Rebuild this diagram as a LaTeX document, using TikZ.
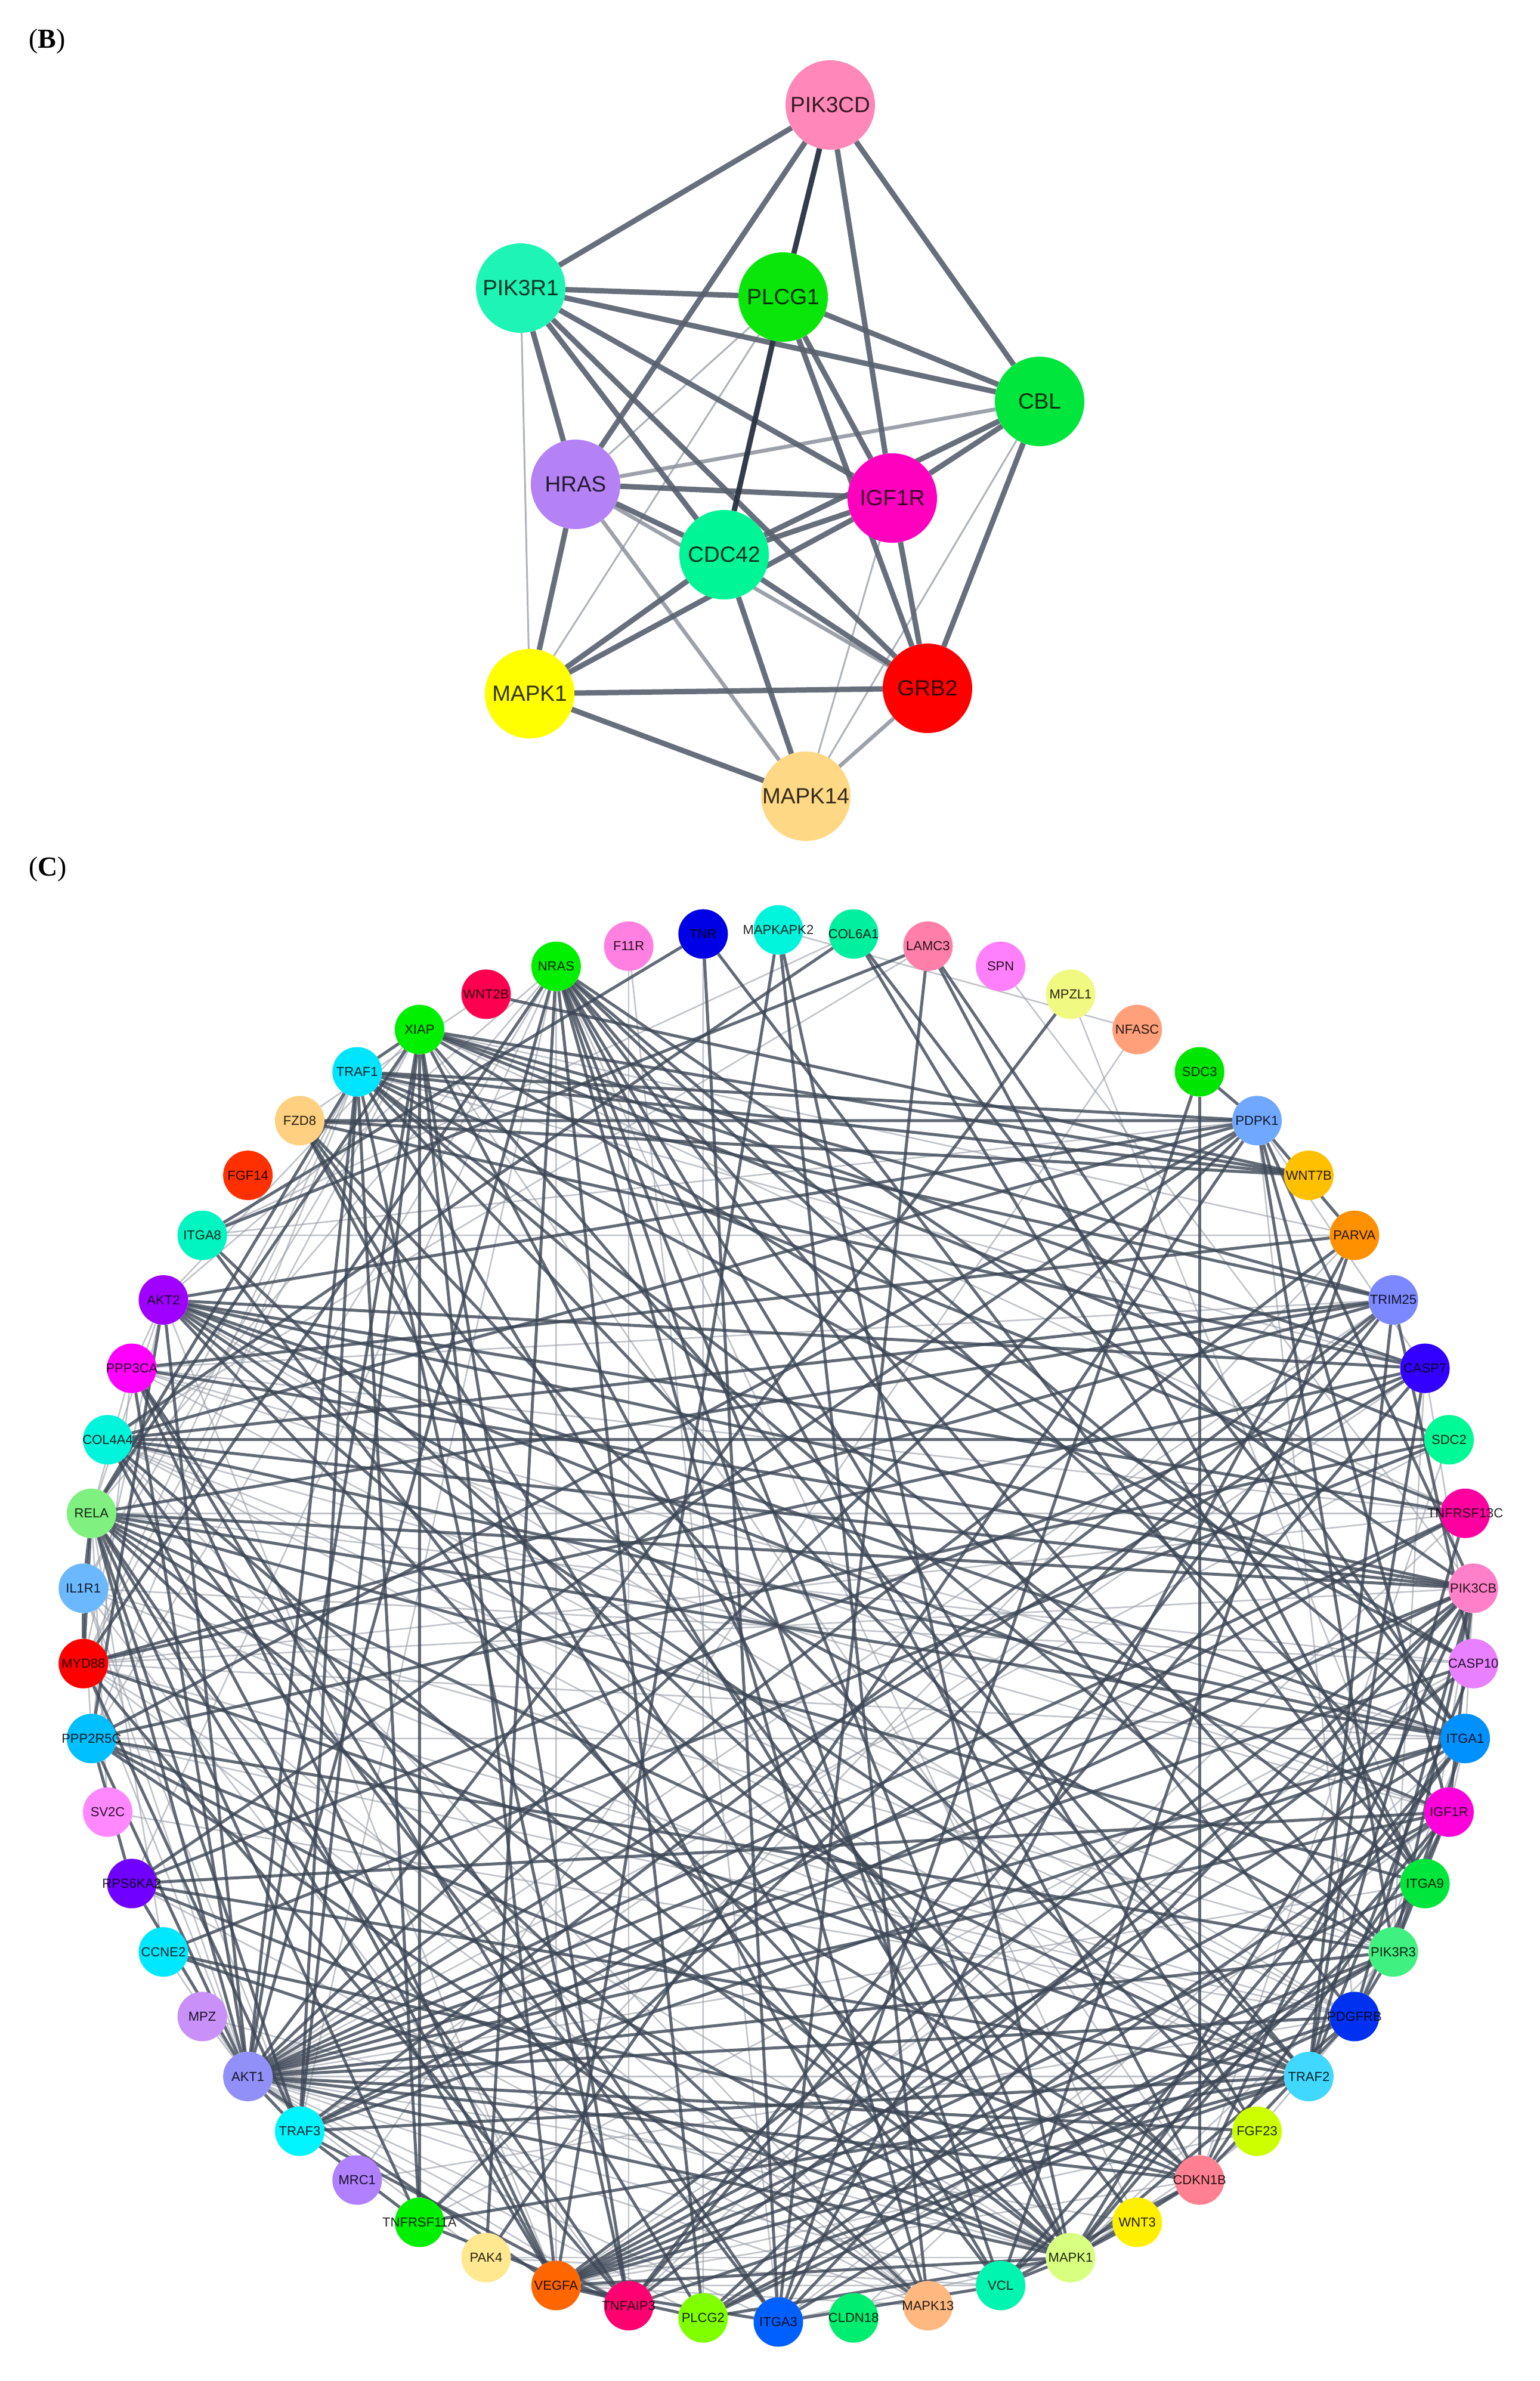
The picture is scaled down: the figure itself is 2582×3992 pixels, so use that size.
\documentclass[tikz,border=0pt]{standalone}
\usepackage{fontspec}
\newfontfamily\arialf{Liberation Sans}
\newfontfamily\timesf{Liberation Serif}
\pgfdeclarelayer{bgl}
\pgfdeclarelayer{edges}
\pgfsetlayers{bgl,edges,main}
% panel B colours
\definecolor{bcPIK3CD}{RGB}{255,136,184}
\definecolor{bcPIK3R1}{RGB}{30,245,180}
\definecolor{bcPLCG1}{RGB}{10,230,10}
\definecolor{bcCBL}{RGB}{0,230,60}
\definecolor{bcHRAS}{RGB}{180,130,245}
\definecolor{bcIGF1R}{RGB}{255,0,190}
\definecolor{bcCDC42}{RGB}{0,245,150}
\definecolor{bcMAPK1}{RGB}{255,255,0}
\definecolor{bcGRB2}{RGB}{255,0,0}
\definecolor{bcMAPK14}{RGB}{255,216,133}
% panel C colours
\definecolor{ccTNR}{RGB}{0,0,230}
\definecolor{ccMAPKAPK2}{RGB}{0,245,220}
\definecolor{ccCOL6A1}{RGB}{0,240,160}
\definecolor{ccLAMC3}{RGB}{255,127,170}
\definecolor{ccSPN}{RGB}{255,128,250}
\definecolor{ccMPZL1}{RGB}{240,250,128}
\definecolor{ccNFASC}{RGB}{255,160,122}
\definecolor{ccSDC3}{RGB}{0,230,0}
\definecolor{ccPDPK1}{RGB}{112,168,255}
\definecolor{ccWNT7B}{RGB}{255,192,0}
\definecolor{ccPARVA}{RGB}{255,144,0}
\definecolor{ccTRIM25}{RGB}{123,136,255}
\definecolor{ccCASP7}{RGB}{51,0,255}
\definecolor{ccSDC2}{RGB}{0,250,150}
\definecolor{ccTNFRSF13C}{RGB}{255,0,160}
\definecolor{ccPIK3CB}{RGB}{255,128,200}
\definecolor{ccCASP10}{RGB}{232,128,255}
\definecolor{ccITGA1}{RGB}{0,145,255}
\definecolor{ccIGF1R}{RGB}{255,0,220}
\definecolor{ccITGA9}{RGB}{0,230,60}
\definecolor{ccPIK3R3}{RGB}{64,240,128}
\definecolor{ccPDGFRB}{RGB}{0,48,240}
\definecolor{ccTRAF2}{RGB}{64,216,255}
\definecolor{ccFGF23}{RGB}{204,255,0}
\definecolor{ccCDKN1B}{RGB}{255,128,144}
\definecolor{ccWNT3}{RGB}{255,240,0}
\definecolor{ccMAPK1}{RGB}{216,255,128}
\definecolor{ccVCL}{RGB}{0,245,176}
\definecolor{ccMAPK13}{RGB}{255,184,128}
\definecolor{ccCLDN18}{RGB}{0,238,112}
\definecolor{ccITGA3}{RGB}{0,96,255}
\definecolor{ccPLCG2}{RGB}{128,255,0}
\definecolor{ccTNFAIP3}{RGB}{255,0,112}
\definecolor{ccVEGFA}{RGB}{255,102,0}
\definecolor{ccPAK4}{RGB}{255,232,144}
\definecolor{ccTNFRSF11A}{RGB}{0,240,0}
\definecolor{ccMRC1}{RGB}{176,128,255}
\definecolor{ccTRAF3}{RGB}{0,245,255}
\definecolor{ccAKT1}{RGB}{144,144,248}
\definecolor{ccMPZ}{RGB}{200,144,248}
\definecolor{ccCCNE2}{RGB}{0,232,255}
\definecolor{ccRPS6KA2}{RGB}{112,0,255}
\definecolor{ccSV2C}{RGB}{255,136,255}
\definecolor{ccPPP2R5C}{RGB}{0,192,255}
\definecolor{ccMYD88}{RGB}{255,0,0}
\definecolor{ccIL1R1}{RGB}{108,184,255}
\definecolor{ccRELA}{RGB}{128,240,128}
\definecolor{ccCOL4A4}{RGB}{0,245,220}
\definecolor{ccPPP3CA}{RGB}{255,0,255}
\definecolor{ccAKT2}{RGB}{160,0,255}
\definecolor{ccITGA8}{RGB}{0,245,192}
\definecolor{ccFGF14}{RGB}{255,48,0}
\definecolor{ccFZD8}{RGB}{255,208,128}
\definecolor{ccTRAF1}{RGB}{0,229,255}
\definecolor{ccXIAP}{RGB}{0,240,0}
\definecolor{ccWNT2B}{RGB}{255,0,80}
\definecolor{ccNRAS}{RGB}{0,240,0}
\definecolor{ccF11R}{RGB}{255,128,224}
\definecolor{edgeDark}{RGB}{60,70,86}
\definecolor{edgeB}{RGB}{88,96,110}
\definecolor{edgeBD}{RGB}{40,50,65}
\definecolor{edgeBM}{RGB}{140,146,156}
\definecolor{edgeBL}{RGB}{175,180,186}
\definecolor{edgeCL}{RGB}{150,156,165}
\tikzset{
  bnode/.style={circle, minimum size=150pt, inner sep=0pt, draw=none,
    font=\arialf\fontsize{37}{37}\selectfont, text opacity=0.8},
  cnode/.style={circle, minimum size=83pt, inner sep=0pt, draw=none,
    font=\arialf\fontsize{22}{22}\selectfont, text opacity=0.85},
  panellabel/.style={anchor=west, inner sep=0pt, font=\timesf\fontsize{46}{46}\selectfont},
  bthick/.style={draw=edgeB, line width=9pt, draw opacity=0.9},
  bdark/.style={draw=edgeBD, line width=9pt, draw opacity=0.95},
  bmed/.style={draw=edgeBM, line width=6.5pt, draw opacity=0.85},
  blight/.style={draw=edgeBL, line width=3pt},
  cheavy/.style={draw=edgeDark, line width=5pt, draw opacity=0.8},
  clight/.style={draw=edgeCL, line width=2.5pt, draw opacity=0.6},
}
\begin{document}
\begin{tikzpicture}[x=1pt,y=1pt]
\begin{pgfonlayer}{bgl}
\fill[white] (0,0) rectangle (2582,-3992);
\end{pgfonlayer}
\useasboundingbox (0,0) rectangle (2582,-3992);

% panel labels
\node[panellabel] (labB) at (48,-69) {(\textbf{B})};
\node[panellabel] (labC) at (48,-1457) {(\textbf{C})};

% ---------------- panel B nodes
\node[bnode, fill=bcPIK3CD] (bPIK3CD) at (1392,-176) {\makebox[0pt]{PIK3CD}};
\node[bnode, fill=bcPIK3R1] (bPIK3R1) at (873,-483) {\makebox[0pt]{PIK3R1}};
\node[bnode, fill=bcPLCG1]  (bPLCG1)  at (1313,-498) {\makebox[0pt]{PLCG1}};
\node[bnode, fill=bcCBL]    (bCBL)    at (1743,-673) {\makebox[0pt]{CBL}};
\node[bnode, fill=bcHRAS]   (bHRAS)   at (965,-812) {\makebox[0pt]{HRAS}};
\node[bnode, fill=bcIGF1R]  (bIGF1R)  at (1496,-835) {\makebox[0pt]{IGF1R}};
\node[bnode, fill=bcCDC42]  (bCDC42)  at (1214,-930) {\makebox[0pt]{CDC42}};
\node[bnode, fill=bcMAPK1]  (bMAPK1)  at (888,-1163) {\makebox[0pt]{MAPK1}};
\node[bnode, fill=bcGRB2]   (bGRB2)   at (1555,-1154) {\makebox[0pt]{GRB2}};
\node[bnode, fill=bcMAPK14] (bMAPK14) at (1351,-1335) {\makebox[0pt]{MAPK14}};

% ---------------- panel C nodes
\foreach \nm [count=\i from 0] in {TNR,MAPKAPK2,COL6A1,LAMC3,SPN,MPZL1,NFASC,SDC3,PDPK1,WNT7B,PARVA,TRIM25,CASP7,SDC2,TNFRSF13C,PIK3CB,CASP10,ITGA1,IGF1R,ITGA9,PIK3R3,PDGFRB,TRAF2,FGF23,CDKN1B,WNT3,MAPK1,VCL,MAPK13,CLDN18,ITGA3,PLCG2,TNFAIP3,VEGFA,PAK4,TNFRSF11A,MRC1,TRAF3,AKT1,MPZ,CCNE2,RPS6KA2,SV2C,PPP2R5C,MYD88,IL1R1,RELA,COL4A4,PPP3CA,AKT2,ITGA8,FGF14,FZD8,TRAF1,XIAP,WNT2B,NRAS,F11R}
{
  \node[cnode, fill=cc\nm] (c\nm) at ({1305+1167*cos(96.207-6.2069*\i)},{-2726+1167*sin(96.207-6.2069*\i)}) {\makebox[0pt]{\nm}};
}

\begin{pgfonlayer}{edges}
% ---------------- panel B edges
\foreach \a/\b in {PIK3R1/MAPK1,PLCG1/HRAS,PLCG1/MAPK1,CBL/MAPK14,IGF1R/MAPK14}
  \draw[blight] (b\a) -- (b\b);
\foreach \a/\b in {CBL/HRAS,HRAS/GRB2,HRAS/MAPK14,GRB2/MAPK14}
  \draw[bmed] (b\a) -- (b\b);
\foreach \a/\b in {PIK3CD/PIK3R1,PIK3CD/HRAS,PIK3CD/IGF1R,PIK3CD/CBL,PIK3R1/PLCG1,PIK3R1/CBL,PIK3R1/HRAS,PIK3R1/CDC42,PIK3R1/IGF1R,PIK3R1/GRB2,PLCG1/CBL,PLCG1/IGF1R,PLCG1/GRB2,CBL/IGF1R,CBL/CDC42,CBL/GRB2,HRAS/IGF1R,HRAS/CDC42,HRAS/MAPK1,IGF1R/CDC42,IGF1R/GRB2,IGF1R/MAPK1,CDC42/MAPK1,CDC42/GRB2,CDC42/MAPK14,MAPK1/GRB2,MAPK1/MAPK14}
  \draw[bthick] (b\a) -- (b\b);
\foreach \a/\b in {PIK3CD/PLCG1,PLCG1/CDC42}
  \draw[bdark] (b\a) -- (b\b);

% ---------------- panel C edges (light)
\foreach \a/\b in {AKT1/TRAF2,AKT1/ITGA9,AKT1/PLCG2,AKT1/TNFAIP3,AKT1/ITGA3,AKT1/MAPK13,AKT1/PAK4,AKT1/CCNE2,AKT1/MYD88,AKT1/TRIM25,AKT1/WNT3,AKT1/VCL,AKT1/IL1R1,AKT1/SDC2,
AKT2/NRAS,AKT2/VEGFA,AKT2/RELA,AKT2/PDGFRB,AKT2/XIAP,AKT2/PPP3CA,AKT2/MYD88,
NRAS/VEGFA,NRAS/RELA,NRAS/TRAF3,NRAS/RPS6KA2,NRAS/WNT3,
XIAP/MYD88,XIAP/TNFRSF13C,XIAP/IL1R1,XIAP/PARVA,XIAP/CDKN1B,
TRAF1/MYD88,TRAF1/CASP7,TRAF1/IL1R1,TRAF1/PPP2R5C,
TRAF2/IL1R1,TRAF3/IL1R1,TRAF3/CASP7,
RELA/TNFRSF13C,RELA/PPP3CA,RELA/CASP10,RELA/CCNE2,RELA/SV2C,
MYD88/MAPK13,MYD88/MAPK1,MYD88/TNFRSF13C,MYD88/PIK3CB,MYD88/ITGA1,MYD88/PDGFRB,
IL1R1/TNFAIP3,IL1R1/MAPK13,IL1R1/PIK3R3,IL1R1/CASP10,IL1R1/PPP2R5C,
VEGFA/MAPK13,VEGFA/FGF23,VEGFA/CDKN1B,VEGFA/VCL,VEGFA/CASP10,
MAPK1/PIK3R3,MAPK1/ITGA3,MAPK1/FGF23,MAPK1/PAK4,MAPK1/MPZ,
PDPK1/PDGFRB,PDPK1/ITGA8,PDPK1/CASP7,
PIK3CB/ITGA1,PIK3CB/ITGA9,PIK3CB/SPN,
PIK3R3/CASP7,IGF1R/ITGA3,IGF1R/ITGA1,
PDGFRB/FGF23,PDGFRB/ITGA1,
ITGA1/PPP3CA,ITGA9/MPZL1,ITGA8/PARVA,ITGA8/COL6A1,
COL4A4/LAMC3,COL4A4/MAPK13,
PARVA/TNFRSF11A,VCL/PAK4,TNFRSF11A/CASP10,TNFRSF13C/TNFAIP3,CASP7/CASP10,
PPP2R5C/PPP3CA,CDKN1B/SDC2,RPS6KA2/MAPK13,FZD8/WNT2B,WNT3/FGF23,
NFASC/MRC1,NFASC/MAPKAPK2,TNR/PLCG2,F11R/TNFAIP3,F11R/ITGA3,CLDN18/ITGA1,MRC1/PDGFRB,SV2C/PDGFRB,MPZ/AKT1,
ITGA1/PPP2R5C,PDGFRB/PPP2R5C,NRAS/PPP2R5C,IGF1R/COL4A4,PIK3R3/COL4A4,PDGFRB/COL4A4,TRAF2/COL4A4,PDGFRB/PPP3CA,IGF1R/PPP3CA,TRIM25/PPP3CA,TNFRSF13C/PPP3CA}
  \draw[clight] (c\a) -- (c\b);

% ---------------- panel C edges (heavy)
\foreach \a/\b in {AKT1/PDPK1,AKT1/PIK3CB,AKT1/PIK3R3,AKT1/IGF1R,AKT1/MAPK1,AKT1/VEGFA,AKT1/CDKN1B,AKT1/XIAP,AKT1/RELA,AKT1/AKT2,AKT1/PDGFRB,AKT1/CASP7,AKT1/PPP2R5C,AKT1/NRAS,AKT1/ITGA1,AKT1/CASP10,AKT1/TNFRSF13C,AKT1/FGF23,AKT1/RPS6KA2,AKT1/TRAF3,AKT1/PARVA,AKT1/MPZL1,AKT1/TRAF1,AKT1/PPP3CA,
AKT2/PDPK1,AKT2/PIK3CB,AKT2/PIK3R3,AKT2/IGF1R,AKT2/CDKN1B,AKT2/MAPK1,AKT2/PPP2R5C,AKT2/CASP7,AKT2/TRAF2,AKT2/ITGA1,AKT2/TNFRSF13C,
NRAS/MAPK1,NRAS/PIK3CB,NRAS/PIK3R3,NRAS/PDGFRB,NRAS/IGF1R,NRAS/PLCG2,NRAS/MAPK13,NRAS/FGF23,NRAS/ITGA1,NRAS/PAK4,NRAS/CDKN1B,NRAS/VCL,NRAS/MYD88,
XIAP/CASP7,XIAP/CASP10,XIAP/TRAF1,XIAP/TRAF2,XIAP/TRAF3,XIAP/TNFAIP3,XIAP/RELA,XIAP/TRIM25,XIAP/TNFRSF11A,XIAP/MAPK1,XIAP/VEGFA,
TRAF1/TRAF2,TRAF1/TRAF3,TRAF1/TNFAIP3,TRAF1/RELA,TRAF1/TNFRSF11A,TRAF1/TNFRSF13C,TRAF1/TRIM25,TRAF1/CASP10,TRAF1/MAPK1,TRAF1/PIK3R3,
TRAF2/TRAF3,TRAF2/TNFAIP3,TRAF2/RELA,TRAF2/TNFRSF11A,TRAF2/TNFRSF13C,TRAF2/CASP10,TRAF2/CASP7,TRAF2/TRIM25,TRAF2/MYD88,
TRAF3/TNFAIP3,TRAF3/RELA,TRAF3/TNFRSF11A,TRAF3/TNFRSF13C,TRAF3/MYD88,TRAF3/TRIM25,TRAF3/PIK3CB,TRAF3/ITGA1,
RELA/MYD88,RELA/IL1R1,RELA/TNFAIP3,RELA/TNFRSF11A,RELA/TRIM25,RELA/VEGFA,RELA/CDKN1B,RELA/MAPK1,RELA/MAPK13,RELA/PIK3CB,RELA/ITGA9,
MYD88/IL1R1,MYD88/TNFAIP3,MYD88/TRIM25,MYD88/CASP7,
VEGFA/PDGFRB,VEGFA/ITGA1,VEGFA/ITGA3,VEGFA/ITGA9,VEGFA/IGF1R,VEGFA/MAPK1,VEGFA/PLCG2,VEGFA/PIK3CB,VEGFA/PIK3R3,VEGFA/TRAF2,
MAPK1/PDGFRB,MAPK1/IGF1R,MAPK1/RPS6KA2,MAPK1/PPP2R5C,MAPK1/CDKN1B,MAPK1/PLCG2,MAPK1/VCL,MAPK1/ITGA1,MAPK1/PIK3CB,MAPK1/WNT3,MAPK1/COL4A4,MAPK1/CCNE2,
PDPK1/PIK3CB,PDPK1/PIK3R3,PDPK1/RPS6KA2,PDPK1/PPP2R5C,PDPK1/IGF1R,PDPK1/SDC3,PDPK1/PAK4,PDPK1/COL4A4,PDPK1/FZD8,PDPK1/TRAF1,
PIK3CB/PIK3R3,PIK3CB/IGF1R,PIK3CB/PDGFRB,PIK3CB/ITGA3,PIK3CB/CDKN1B,PIK3CB/PLCG2,PIK3CB/COL4A4,PIK3CB/PPP3CA,
PIK3R3/IGF1R,PIK3R3/PDGFRB,PIK3R3/ITGA1,PIK3R3/ITGA3,PIK3R3/PPP2R5C,PIK3R3/PLCG2,
IGF1R/PDGFRB,IGF1R/PLCG2,IGF1R/CDKN1B,IGF1R/RPS6KA2,
PDGFRB/PLCG2,PDGFRB/CDKN1B,
ITGA1/COL4A4,ITGA1/COL6A1,ITGA1/LAMC3,ITGA1/VCL,ITGA1/RELA,
ITGA3/LAMC3,ITGA3/COL4A4,ITGA3/VCL,ITGA3/TNR,ITGA3/PARVA,ITGA3/PPP3CA,
ITGA9/TNR,ITGA9/VCL,ITGA9/COL6A1,ITGA9/LAMC3,ITGA9/TRAF1,
ITGA8/LAMC3,ITGA8/TNR,ITGA8/VCL,ITGA8/CDKN1B,
COL4A4/COL6A1,COL4A4/SDC2,COL4A4/VEGFA,COL4A4/TRIM25,
PARVA/VCL,PARVA/PDPK1,PARVA/PPP3CA,
VCL/CDKN1B,VCL/FZD8,
TNFRSF11A/TNFAIP3,TNFRSF11A/TRIM25,
TNFAIP3/TRIM25,TNFAIP3/CASP7,TNFAIP3/CASP10,
CASP7/RPS6KA2,CASP10/TRIM25,
PPP2R5C/RPS6KA2,PPP2R5C/CDKN1B,PPP2R5C/MAPK13,PPP2R5C/SDC2,
PPP3CA/PLCG2,PPP3CA/VEGFA,
CDKN1B/CCNE2,CDKN1B/SDC3,
RPS6KA2/TRAF2,
MAPK13/FZD8,
FZD8/WNT7B,FZD8/WNT3,FZD8/CASP7,
WNT2B/WNT7B,WNT7B/TRAF1,WNT7B/XIAP,
FGF23/FZD8,
SDC2/XIAP,SDC2/CCNE2,
SDC3/ITGA3,
MAPKAPK2/MAPK13,MAPKAPK2/MAPK1,MAPKAPK2/VEGFA}
  \draw[cheavy] (c\a) -- (c\b);
\end{pgfonlayer}
\end{tikzpicture}
\end{document}
